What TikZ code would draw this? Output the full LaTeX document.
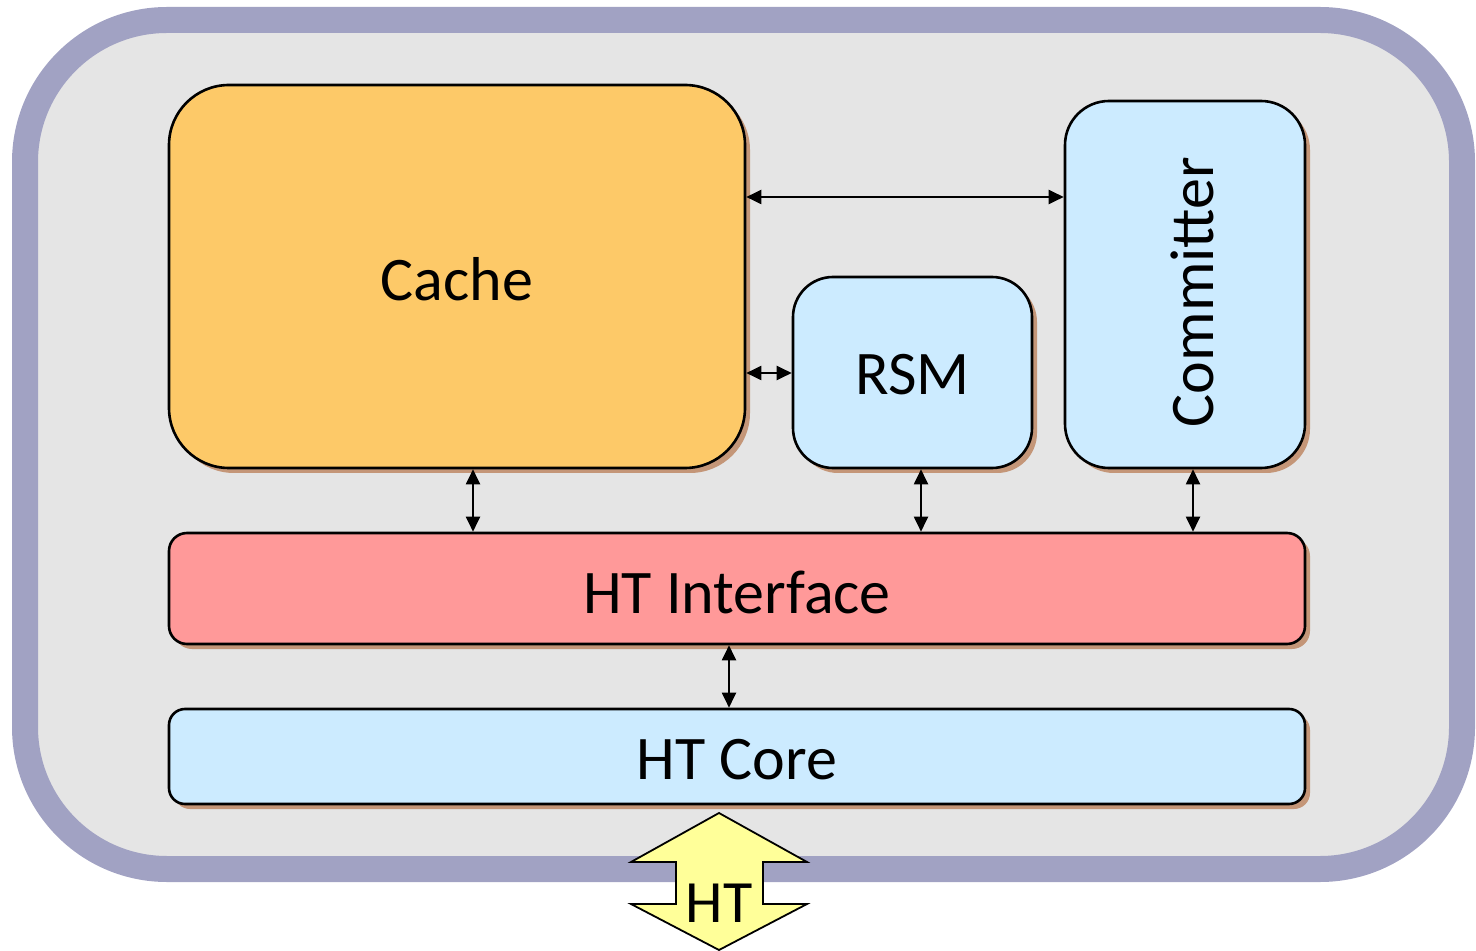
\documentclass[tikz,border=0pt]{standalone}
\usepackage{fontspec}
\setmainfont{Carlito}
\usetikzlibrary{shadows,arrows.meta}

\definecolor{framecol}{RGB}{161,162,195}
\definecolor{panel}{RGB}{229,229,229}
\definecolor{cachecol}{RGB}{253,201,104}
\definecolor{bluecol}{RGB}{204,235,255}
\definecolor{pinkcol}{RGB}{255,153,153}
\definecolor{shadecol}{RGB}{196,150,120}
\definecolor{htcol}{RGB}{255,255,153}

\tikzset{
  blk/.style={draw=black, line width=1.3pt, inner sep=0pt,
    general shadow={shadow xshift=2.5pt, shadow yshift=-2.5pt, fill=shadecol}},
  lbl/.style={font=\fontsize{31}{36}\selectfont, inner sep=0pt},
  link/.style={line width=1pt, {Triangle[length=7.5pt,width=7pt]}-{Triangle[length=7.5pt,width=7pt]}},
}

\begin{document}
\begin{tikzpicture}[x=0.5pt,y=-0.5pt]
  \useasboundingbox (0,0) rectangle (1476,951);

  % outer module frame
  \draw[draw=framecol, fill=panel, line width=13pt, rounded corners=71pt]
    (25,20) rectangle (1462,869);

  % blocks
  \node[blk, fill=cachecol, rounded corners=30pt, minimum width=288pt, minimum height=191.5pt]
    (cache) at (457,276.5) {};
  \node[blk, fill=bluecol, rounded corners=22pt, minimum width=120pt, minimum height=183.5pt]
    (committer) at (1185,284.5) {};
  \node[blk, fill=bluecol, rounded corners=20pt, minimum width=119.5pt, minimum height=95.5pt]
    (rsm) at (912.5,372.5) {};
  \node[blk, fill=pinkcol, rounded corners=9pt, minimum width=568pt, minimum height=55.5pt]
    (htif) at (737,588.5) {};
  \node[blk, fill=bluecol, rounded corners=8pt, minimum width=568pt, minimum height=47.5pt]
    (htcore) at (737,756.5) {};

  % labels
  \node[lbl] (cachetxt) at (457,279) {Cache};
  \node[lbl] (rsmtxt) at (912.5,375) {RSM};
  \node[lbl, rotate=90] (committxt) at (1192,292) {Committer};
  \node[lbl] (htiftxt) at (737,592) {HT Interface};
  \node[lbl] (htcoretxt) at (737,760) {HT Core};

  % reference points for the connectors
  \coordinate (r197) at (0,197);
  \coordinate (r373) at (0,373);
  \coordinate (c473) at (473,0);
  \coordinate (c921) at (921,0);
  \coordinate (c1193) at (1193,0);
  \coordinate (c729) at (729,0);

  % connectors
  \draw[link] (cache.east |- r197) -- (committer.west |- r197);
  \draw[link] (cache.east |- r373) -- (rsm.west |- r373);
  \draw[link] (cache.south -| c473) -- (htif.north -| c473);
  \draw[link] (rsm.south -| c921) -- (htif.north -| c921);
  \draw[link] (committer.south -| c1193) -- (htif.north -| c1193);
  \draw[link] (htif.south -| c729) -- (htcore.north -| c729);

  % external HT port
  \draw[fill=htcol, line width=0.9pt, line join=miter]
    (719,813) -- (807,862) -- (763,862) -- (763,904) -- (807,904) -- (719,950)
    -- (631,904) -- (676,904) -- (676,862) -- (631,862) -- cycle;
  \node[font=\fontsize{30}{34}\selectfont, inner sep=0pt] (httxt) at (719,903) {HT};
\end{tikzpicture}
\end{document}
